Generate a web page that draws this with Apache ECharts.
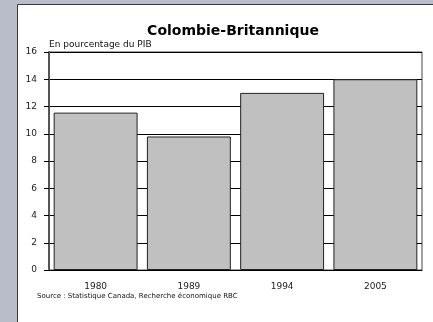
<!DOCTYPE html>
<html>
<head>
<meta charset="utf-8">
<script src="https://cdn.jsdelivr.net/npm/echarts@6/dist/echarts.min.js"></script>
<style>
  html, body { margin: 0; padding: 0; background: #b9bdc9; }
  #chart { width: 433px; height: 322px; }
</style>
</head>
<body>
<div id="chart"></div>
<script>
// Dépenses en pourcentage du PIB, Colombie-Britannique
const years = ['1980', '1989', '1994', '2005'];
const shareOfGdp = [11.55, 9.8, 13.0, 14.0];
const yTicks = [0, 2, 4, 6, 8, 10, 12, 14, 16];

const FONT = 'DejaVu Sans';

const chart = echarts.init(document.getElementById('chart'), null, { renderer: 'canvas' });

chart.setOption({
  animation: false,
  backgroundColor: '#b9bdc9',
  graphic: [
    {
      type: 'rect', left: 17, top: 4, z: -10,
      shape: { width: 420, height: 322 },
      style: { fill: '#ffffff', stroke: '#3a3a3a', lineWidth: 1 }
    },
    {
      type: 'text', left: 49, top: 40,
      style: { text: 'En pourcentage du PIB', font: '9px "' + FONT + '"', fill: '#111' }
    },
    {
      type: 'text', left: 37, top: 293,
      style: { text: 'Source : Statistique Canada, Recherche économique RBC', font: '7px "' + FONT + '"', fill: '#111' }
    }
  ],
  title: {
    text: 'Colombie-Britannique',
    left: 228, top: 19, textAlign: 'center',
    textStyle: { fontFamily: FONT, fontWeight: 'bold', fontSize: 14, color: '#000' }
  },
  grid: {
    left: 49, right: 11, top: 52, bottom: 52,
    show: true, borderColor: '#444', borderWidth: 1, backgroundColor: 'transparent'
  },
  xAxis: {
    type: 'category',
    data: years,
    axisLine: { lineStyle: { color: '#000', width: 1 } },
    axisTick: { alignWithLabel: true, length: 4, lineStyle: { color: '#000' } },
    axisLabel: { fontFamily: FONT, fontSize: 9, color: '#222', margin: 12 }
  },
  yAxis: {
    type: 'value',
    min: yTicks[0], max: yTicks[yTicks.length - 1], interval: 2,
    axisLine: { show: true, lineStyle: { color: '#555', width: 2 } },
    axisTick: { show: true, length: 5, lineStyle: { color: '#000' } },
    axisLabel: { fontFamily: FONT, fontSize: 9, color: '#222', margin: 12 },
    splitLine: { show: true, lineStyle: { color: '#000', width: 1 } }
  },
  series: [{
    type: 'bar',
    data: shareOfGdp,
    barCategoryGap: '10%',
    itemStyle: { color: '#c0c0c0', borderColor: '#222', borderWidth: 1 }
  }]
});
</script>
</body>
</html>
